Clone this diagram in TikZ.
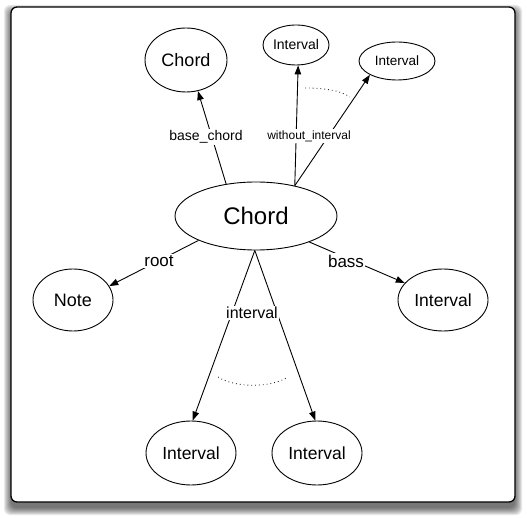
\documentclass[tikz,border=0pt]{standalone}
\usepackage{fontspec}
\setmainfont{Liberation Sans}
\usetikzlibrary{arrows.meta,shapes.geometric}
\newcommand\fsz[1]{\fontsize{#1}{#1}\selectfont}
\tikzset{
  ent/.style={ellipse, draw, line width=0.9pt, inner sep=0pt, fill=white},
  conn/.style={line width=0.9pt, -{Triangle[length=9pt,width=6.5pt]}},
  lab/.style={fill=white, inner sep=1.5pt},
  dots/.style={line width=0.85pt, dash pattern=on 0.85pt off 3pt, black!85},
}
\begin{document}
\begin{tikzpicture}[x=1pt,y=-1pt]
\useasboundingbox (0,0) rectangle (527,518);
% frame shadow
\foreach \i in {0,...,7} {
  \fill[black, opacity=0.09, rounded corners=6pt] (11-\i,12-\i) rectangle (515+\i,508+\i);
}
\draw[line width=1.3pt, fill=white, rounded corners=6pt] (11,7) rectangle (515,502);

% nodes
\node[ent, minimum width=162pt, minimum height=68pt, font=\fsz{24}] (m) at (256,216) {Chord};
\node[ent, minimum width=82pt, minimum height=64pt, font=\fsz{18}] (c1) at (186,60) {Chord};
\node[ent, minimum width=66pt, minimum height=40pt, font=\fsz{14}] (i1) at (296,45) {Interval};
\node[ent, minimum width=76pt, minimum height=38pt, font=\fsz{13.5}] (i2) at (397,61) {Interval};
\node[ent, minimum width=80pt, minimum height=62pt, font=\fsz{18}] (n) at (73,300) {Note};
\node[ent, minimum width=90pt, minimum height=62pt, font=\fsz{17.5}] (ib) at (443,300) {Interval};
\node[ent, minimum width=90pt, minimum height=64pt, font=\fsz{17.5}] (i3) at (191,453) {Interval};
\node[ent, minimum width=90pt, minimum height=64pt, font=\fsz{17.5}] (i4) at (317,453) {Interval};

% connectors
\draw[conn] (m.133) -- (c1.291);
\draw[conn] (m.38) -- (i1.276);
\draw[conn] (m.38) -- (i2.207);
\draw[conn] (m.203) -- (n.21);
\draw[conn] (m.334) -- (ib.156);
\draw[conn] (m.268) -- (i3.87);
\draw[conn] (m.268) -- (i4.93);

% dotted arcs
\draw[dots] (305,88) .. controls (322,88) and (340,90) .. (350,97);
\draw[dots] (218,377) .. controls (235,388) and (271,388) .. (288,377);

% labels
\node[lab, font=\fsz{14}] (lbc) at (206,137) {base\_chord};
\node[lab, font=\fsz{12}] (lwi) at (309,136) {without\_interval};
\node[lab, font=\fsz{17}] (lr) at (159,261) {root};
\node[lab, font=\fsz{17}] (lb) at (346,261) {bass};
\node[lab, font=\fsz{16}] (li) at (252,313) {interval};
\end{tikzpicture}
\end{document}
